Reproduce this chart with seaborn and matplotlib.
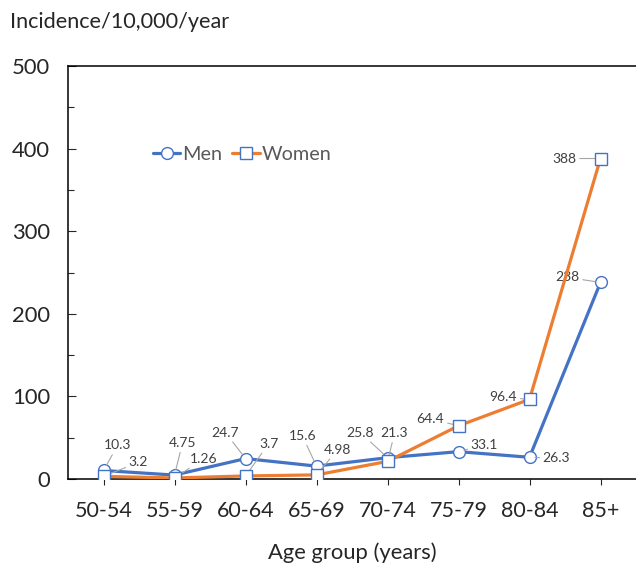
import numpy as np
import pandas as pd
import matplotlib
matplotlib.use("Agg")
import matplotlib.pyplot as plt
import seaborn as sns
from matplotlib.ticker import MultipleLocator

# data
age_groups = ["50-54", "55-59", "60-64", "65-69", "70-74", "75-79", "80-84", "85+"]
men = [10.3, 4.75, 24.7, 15.6, 25.8, 33.1, 26.3, 238]
women = [3.2, 1.26, 3.7, 4.98, 21.3, 64.4, 96.4, 388]
men_labels = ["10.3", "4.75", "24.7", "15.6", "25.8", "33.1", "26.3", "238"]
women_labels = ["3.2", "1.26", "3.7", "4.98", "21.3", "64.4", "96.4", "388"]

# label placement (pixel offsets from the point)
men_off = [(14, 25), (8, 32), (-20, 26), (-14, 30), (-27, 25), (26, 7), (27, -1), (-33, 5)]
women_off = [(35, 14), (29, 19), (23, 32), (21, 25), (7, 28), (-28, 7), (-26, 2), (-36, 0)]

sns.set_style("white")
plt.rcParams["font.family"] = ["Lato", "DejaVu Sans"]

blue = "#4472C4"
orange = "#ED7D31"

df = pd.DataFrame({"age": age_groups * 2,
                   "value": men + women,
                   "sex": ["Men"] * 8 + ["Women"] * 8})

fig = plt.figure(figsize=(6.36, 5.66), dpi=100)
ax = fig.add_axes([68 / 636, 87 / 566, 568 / 636, 413 / 566])

sns.lineplot(data=df[df.sex == "Men"], x="age", y="value", ax=ax, color=blue,
             marker="o", markersize=8.5, mfc="white", mec=blue, mew=1.0,
             lw=2.3, label="Men", zorder=3)
sns.lineplot(data=df[df.sex == "Women"], x="age", y="value", ax=ax, color=orange,
             marker="s", markersize=8, mfc="white", mec=blue, mew=1.0,
             lw=2.3, label="Women", zorder=4)

for i, (v, t, o) in enumerate(zip(men, men_labels, men_off)):
    ax.annotate(t, (i, v), xytext=o, textcoords="offset pixels", ha="center", va="center",
                fontsize=10, color="#404040",
                arrowprops=dict(arrowstyle="-", color="#a6a6a6", lw=0.8, shrinkA=0, shrinkB=4))
for i, (v, t, o) in enumerate(zip(women, women_labels, women_off)):
    ax.annotate(t, (i, v), xytext=o, textcoords="offset pixels", ha="center", va="center",
                fontsize=10, color="#404040",
                arrowprops=dict(arrowstyle="-", color="#a6a6a6", lw=0.8, shrinkA=0, shrinkB=4))

ax.set_xlim(-0.5, 7.5)
ax.set_ylim(0, 500)
ax.yaxis.set_major_locator(MultipleLocator(100))
ax.yaxis.set_minor_locator(MultipleLocator(50))
ax.tick_params(axis="y", which="major", direction="in", length=5.5, width=0.8,
               labelsize=15.8, pad=13, left=True)
ax.tick_params(axis="y", which="minor", direction="in", length=4.5, width=0.8, left=True)
ax.tick_params(axis="x", direction="out", length=4.5, width=0.8, labelsize=15.5,
               pad=11, bottom=True)

for s in ["left", "bottom", "top"]:
    ax.spines[s].set_color("black")
    ax.spines[s].set_linewidth(1.1)
ax.spines["right"].set_visible(False)

ax.set_ylabel("")
ax.set_xlabel("Age group (years)", fontsize=15.8, labelpad=16)
fig.text(10 / 636, 1 - 22 / 566, "Incidence/10,000/year", fontsize=15.6, ha="left", va="center")

leg = ax.legend(loc="center left", bbox_to_anchor=(0.135, 0.785), ncol=2, frameon=False,
                fontsize=14.3, handlelength=1.4, handletextpad=0.1, columnspacing=0.5,
                borderaxespad=0)
for txt in leg.get_texts():
    txt.set_color("#595959")

fig.savefig("out.png", dpi=100)
